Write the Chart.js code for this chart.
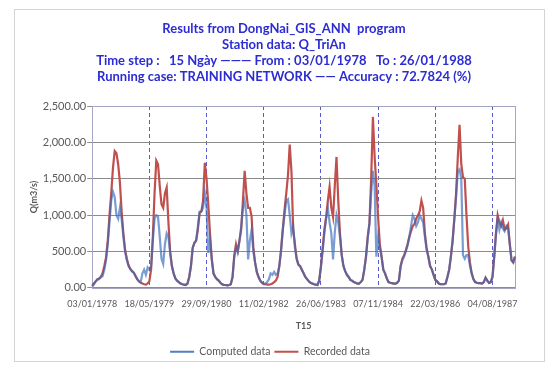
<!DOCTYPE html>
<html>
<head>
<meta charset="utf-8">
<script src="https://cdn.jsdelivr.net/npm/chart.js@4"></script>
<style>
  html, body { margin: 0; padding: 0; background: #fff; }
  #frame {
    position: absolute; left: 14px; top: 9px;
    width: 529px; height: 351px;
    border: 1px solid #d4d4d4;
    overflow: hidden;
  }
  canvas { display: block; }
</style>
</head>
<body>
<div id="frame"><canvas id="flowChart" width="529" height="357"></canvas></div>
<script>
'use strict'

//++++++++++++++ Chart data ++++++++++++++//
let titleLines = [
  'Results from DongNai_GIS_ANN  program',
  'Station data: Q_TriAn',
  'Time step :   15 Ngày ——— From : 03/01/1978   To : 26/01/1988',
  'Running case: TRAINING NETWORK —— Accuracy : 72.7824 (%)'
];
let tickLabels = ['03/01/1978', '18/05/1979', '29/09/1980', '11/02/1982',
  '26/06/1983', '07/11/1984', '22/03/1986', '04/08/1987'];
let labelEvery = 33;
let yMax = 2500;
let yStep = 500;

// Q (m3/s), one value per 15 day step
let computedData = [
  20, 50, 90, 110, 120, 150, 160, 250, 380, 600,
  900, 1200, 1320, 1250, 1000, 950, 1100, 950, 700, 500,
  380, 300, 260, 230, 210, 170, 120, 90, 80, 200,
  250, 180, 280, 250, 300, 650, 950, 1000, 980, 700,
  400, 330, 600, 750, 700, 480, 300, 200, 130, 100,
  80, 60, 50, 45, 40, 60, 150, 300, 550, 620,
  650, 850, 1050, 1050, 1100, 1300, 1100, 480, 650, 400,
  200, 150, 120, 100, 70, 50, 40, 40, 35, 40,
  50, 150, 420, 550, 500, 650, 850, 1100, 1200, 1000,
  390, 650, 800, 500, 350, 220, 150, 100, 70, 60,
  60, 80, 120, 200, 180, 220, 180, 200, 300, 520,
  800, 1000, 1200, 1220, 1000, 750, 850, 550, 400, 320,
  300, 250, 200, 150, 120, 90, 70, 60, 50, 45,
  40, 100, 280, 500, 750, 950, 1100, 900, 750, 390,
  760, 1000, 900, 700, 450, 300, 230, 180, 150, 110,
  100, 80, 70, 60, 60, 80, 110, 240, 420, 680,
  880, 1300, 1610, 1400, 430, 700, 550, 430, 250, 200,
  130, 80, 70, 65, 60, 60, 70, 100, 300, 380,
  430, 500, 580, 700, 850, 1000, 950, 850, 900, 1000,
  950, 900, 700, 520, 430, 300, 255, 180, 110, 90,
  60, 50, 50, 50, 60, 150, 250, 430, 650, 950,
  1250, 1600, 1630, 1500, 450, 400, 450, 450, 300, 200,
  120, 80, 70, 65, 65, 60, 80, 140, 100, 70,
  80, 150, 420, 720, 950, 800, 900, 820, 780, 850,
  820, 600, 380, 350, 430
];
let recordedData = [
  30, 60, 90, 120, 130, 150, 200, 300, 420, 650,
  1000, 1300, 1650, 1880, 1850, 1700, 1450, 1050, 750, 520,
  400, 310, 260, 230, 210, 160, 120, 90, 70, 60,
  50, 45, 60, 90, 250, 700, 1300, 1750, 1700, 1400,
  1150, 1100, 1300, 1380, 900, 500, 300, 200, 130, 100,
  80, 60, 50, 45, 40, 60, 150, 300, 550, 620,
  650, 800, 1030, 1050, 1200, 1720, 1500, 1150, 750, 400,
  200, 150, 120, 100, 70, 50, 40, 40, 35, 40,
  50, 150, 450, 600, 500, 650, 800, 1200, 1610, 1300,
  1100, 1100, 980, 560, 350, 220, 150, 100, 70, 50,
  50, 45, 45, 50, 60, 80, 100, 150, 300, 520,
  800, 1070, 1300, 1550, 1970, 1600, 800, 600, 400, 320,
  300, 250, 200, 150, 120, 90, 70, 60, 50, 45,
  40, 100, 300, 550, 800, 975, 1200, 1390, 1100, 975,
  1400, 1800, 1200, 750, 450, 300, 230, 180, 150, 110,
  100, 80, 70, 60, 60, 80, 110, 250, 430, 700,
  890, 1500, 2350, 1800, 1420, 975, 600, 430, 250, 200,
  130, 80, 70, 65, 60, 60, 70, 100, 300, 400,
  450, 520, 600, 700, 780, 850, 880, 950, 1000, 1050,
  1200, 1100, 750, 550, 430, 300, 255, 180, 110, 90,
  60, 50, 50, 50, 60, 150, 250, 430, 650, 950,
  1300, 1800, 2240, 1700, 1520, 1500, 1000, 570, 350, 200,
  120, 80, 70, 65, 65, 60, 80, 140, 100, 70,
  80, 150, 430, 750, 1000, 900, 850, 930, 800, 820,
  870, 600, 380, 350, 430
];
let stepIndex = recordedData.map((v, i) => i);

//++++++++++++++ Colours / fonts ++++++++++++++//
let blueLine = 'rgba(55, 105, 185, 0.66)';
let redLine = '#c0504d';
let legendColors = ['#4f81bd', '#c0504d'];
let textGray = '#595959';
let fontName = 'Lato, "Open Sans", sans-serif';

// thin frame round the plot area
const plotFrame = {
  id: 'plotFrame',
  beforeDatasetsDraw(chart) {
    const { ctx, chartArea } = chart;
    ctx.save();
    ctx.strokeStyle = '#a4a4c4';
    ctx.lineWidth = 1;
    ctx.strokeRect(Math.round(chartArea.left) + 0.5, Math.round(chartArea.top) + 0.5,
      Math.round(chartArea.right - chartArea.left), Math.round(chartArea.bottom - chartArea.top));
    ctx.restore();
  }
};

// legend sits a little left of the title centre in the original
const legendShift = {
  id: 'legendShift',
  afterLayout(chart) {
    chart.legend.left -= 14;
    chart.legend.right -= 14;
  }
};

const ctx = document.getElementById('flowChart').getContext('2d');
const flowChart = new Chart(ctx, {
  type: 'line',
  data: {
    labels: stepIndex,
    datasets: [{
      label: 'Computed data',
      data: computedData,
      borderColor: blueLine,
      backgroundColor: legendColors[0],
      borderWidth: 2.2,
      pointRadius: 0,
      tension: 0
    }, {
      label: 'Recorded data',
      data: recordedData,
      borderColor: redLine,
      backgroundColor: legendColors[1],
      borderWidth: 2.2,
      pointRadius: 0,
      tension: 0
    }]
  },
  options: {
    responsive: false,
    animation: false,
    events: [],
    layout: { padding: { left: 14, right: 5, top: 0, bottom: 0 } },
    plugins: {
      tooltip: { enabled: false },
      title: {
        display: true,
        text: titleLines,
        color: '#2c2cd2',
        font: { family: fontName, size: 13, weight: 'bold', lineHeight: '16px' },
        padding: { top: 11, bottom: 21 }
      },
      legend: {
        position: 'bottom',
        labels: {
          color: textGray,
          font: { family: fontName, size: 10.5 },
          boxWidth: 24,
          boxHeight: 2,
          padding: 4,
          generateLabels(chart) {
            const items = Chart.defaults.plugins.legend.labels.generateLabels(chart);
            items.forEach((item, i) => {
              item.fillStyle = legendColors[i];
              item.strokeStyle = legendColors[i];
              item.lineWidth = 0;
            });
            return items;
          }
        }
      }
    },
    scales: {
      x: {
        type: 'category',
        offset: false,
        title: {
          display: true,
          text: 'T15',
          color: textGray,
          font: { family: fontName, size: 9, weight: 'bold' },
          padding: { top: 0, bottom: 11 }
        },
        ticks: {
          autoSkip: false,
          maxRotation: 0,
          color: textGray,
          font: { family: fontName, size: 9 },
          padding: 11,
          callback: (val, i) => (i % labelEvery === 0 ? tickLabels[i / labelEvery] : null)
        },
        grid: {
          color: '#5a5ad2',
          lineWidth: 1,
          drawTicks: false
        },
        border: { display: false, dash: [4, 3] }
      },
      y: {
        min: 0,
        max: yMax,
        title: {
          display: true,
          text: 'Q(m3/s)',
          color: textGray,
          font: { family: fontName, size: 9, weight: 'bold' },
          padding: { top: 0, bottom: 2 }
        },
        ticks: {
          stepSize: yStep,
          color: textGray,
          font: { family: fontName, size: 11 },
          padding: 1,
          callback: v => v.toLocaleString('en-US', { minimumFractionDigits: 2, maximumFractionDigits: 2 })
        },
        grid: { color: '#8c8c8c', lineWidth: 1, drawTicks: true, tickLength: 5 },
        border: { display: false }
      },
      // empty strip on the right, keeps the plot off the frame without moving the title
      yRight: {
        position: 'right',
        display: true,
        ticks: { display: false },
        grid: { display: false },
        border: { display: false },
        afterFit: scale => { scale.width = 24; }
      }
    }
  },
  plugins: [plotFrame, legendShift]
});
</script>
</body>
</html>
